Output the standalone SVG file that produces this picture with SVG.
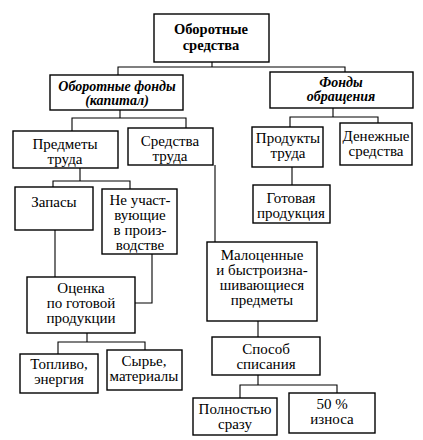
<svg xmlns="http://www.w3.org/2000/svg" width="423" height="440" viewBox="0 0 423 440">
<style>
svg text{font-family:'Liberation Serif','Times New Roman',serif !important;font-size:15px;text-anchor:middle;fill:#000}
svg text.b{font-weight:bold;font-size:14.5px}
svg text.bi{font-weight:bold;font-style:italic;font-size:14px}
rect.n{fill:#fff;stroke:#000;stroke-width:1.4}
#connectors path{fill:none;stroke:#000;stroke-width:1.1}
</style>
<rect width="423" height="440" fill="#fff"/>
<g id="connectors">
<path d="M212 62V67M118 75V67H345V72"/>
<path d="M120 110V118M72 131V118H186V128"/>
<path d="M333 108V117M290 127V117H378V123"/>
<path d="M80 168V181M53 187V181H130V189"/>
<path d="M55 230V277"/>
<path d="M152 254V303H135"/>
<path d="M87 333V342M58 354V342H145V350"/>
<path d="M215 165V242"/>
<path d="M292 167V185"/>
<path d="M258 321V337"/>
<path d="M258 375V385M240 398V385H337V393"/>
</g>
<g id="n1"><rect class="n" x="154" y="14" width="115" height="48"/><text class="b" x="211" y="34">Оборотные</text><text class="b" x="211" y="50">средства</text></g>
<g id="n2"><rect class="n" x="50" y="75" width="133" height="35"/><text class="bi" x="117" y="91">Оборотные фонды</text><text class="bi" x="117" y="105">(капитал)</text></g>
<g id="n3"><rect class="n" x="270" y="72" width="143" height="36"/><text class="bi" x="341" y="87">Фонды</text><text class="bi" x="341" y="101">обращения</text></g>
<g id="n4"><rect class="n" x="13" y="131" width="105" height="37"/><text x="65" y="149">Предметы</text><text x="65" y="164">труда</text></g>
<g id="n5"><rect class="n" x="128" y="128" width="85" height="37"/><text x="170" y="146">Средства</text><text x="170" y="161">труда</text></g>
<g id="n6"><rect class="n" x="252" y="127" width="71" height="40"/><text x="288" y="143">Продукты</text><text x="288" y="158">труда</text></g>
<g id="n7"><rect class="n" x="340" y="123" width="72" height="42"/><text x="376" y="141">Денежные</text><text x="376" y="156">средства</text></g>
<g id="n8"><rect class="n" x="253" y="185" width="77" height="38"/><text x="291" y="203">Готовая</text><text x="291" y="218">продукция</text></g>
<g id="n9"><rect class="n" x="15" y="187" width="78" height="43"/><text x="54" y="207">Запасы</text></g>
<g id="n10"><rect class="n" x="102" y="189" width="75" height="65"/><text x="140" y="205">Не участ-</text><text x="140" y="220">вующие</text><text x="140" y="235">в произ-</text><text x="140" y="250">водстве</text></g>
<g id="n11"><rect class="n" x="27" y="277" width="108" height="56"/><text x="81" y="293">Оценка</text><text x="81" y="308">по готовой</text><text x="81" y="323">продукции</text></g>
<g id="n12"><rect class="n" x="20" y="354" width="78" height="39"/><text x="59" y="369">Топливо,</text><text x="59" y="384">энергия</text></g>
<g id="n13"><rect class="n" x="107" y="350" width="75" height="40"/><text x="144" y="366">Сырье,</text><text x="144" y="381">материалы</text></g>
<g id="n14"><rect class="n" x="207" y="242" width="110" height="79"/><text x="262" y="260">Малоценные</text><text x="262" y="275">и быстроизна-</text><text x="262" y="290">шивающиеся</text><text x="262" y="305">предметы</text></g>
<g id="n15"><rect class="n" x="212" y="337" width="108" height="38"/><text x="266" y="354">Способ</text><text x="266" y="369">списания</text></g>
<g id="n16"><rect class="n" x="193" y="398" width="84" height="37"/><text x="235" y="414">Полностью</text><text x="235" y="429">сразу</text></g>
<g id="n17"><rect class="n" x="289" y="393" width="86" height="40"/><text x="332" y="409">50 %</text><text x="332" y="424">износа</text></g>
</svg>
